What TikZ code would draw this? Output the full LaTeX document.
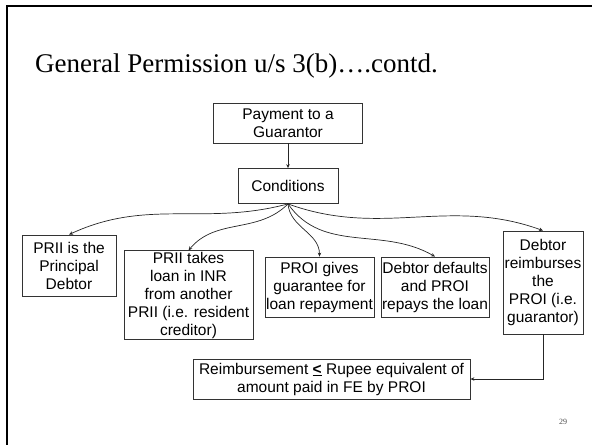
\documentclass[tikz,border=0pt]{standalone}
\usepackage{fontspec}
\setmainfont{Liberation Serif}
\newfontfamily\boxfont{Liberation Sans}
\usetikzlibrary{arrows.meta}

\tikzset{
    cond/.style={draw=black!80, line width=0.8pt, align=center, inner sep=1pt,
        font=\boxfont\fontsize{15.5}{18}\selectfont},
    link/.style={draw=black!85, line width=0.7pt, -{Stealth[length=4pt,width=3.5pt]}}
}

\begin{document}
\begin{tikzpicture}[x=1pt,y=1pt]
            \useasboundingbox (0,0) rectangle (592,-445);

            % slide frame
            \draw[line width=2.5pt] (592,-6) -- (7,-6) -- (7,-445);

            % title
            \node[anchor=base west, inner sep=0pt, font=\fontsize{27}{30}\selectfont] (title) at (35,-72)
                {General Permission u/s 3(b)….contd.};

            % boxes
            \node[cond, minimum width=149, minimum height=40] (pay) at (288,-123) {Payment to a\\Guarantor};
            \node[cond, minimum width=100, minimum height=35] (conds) at (288,-186) {Conditions};

            \node[cond, minimum width=94, minimum height=61] (principal) at (69,-265.5) {PRII is the\\Principal\\Debtor};
            \node[cond, minimum width=129, minimum height=88] (takes) at (188.5,-295) {PRII takes\\loan in INR\\from another\\PRII (i.e. resident\\creditor)};
            \node[cond, minimum width=105, minimum height=60] (gives) at (319.5,-287) {PROI gives\\guarantee for\\loan repayment};
            \node[cond, minimum width=100, minimum height=60] (defaults) at (435,-287) {Debtor defaults\\and PROI\\repays the loan};
            \node[cond, minimum width=80, minimum height=103] (reimburses) at (543,-282.5) {Debtor\\reimburses\\the\\PROI (i.e.\\guarantor)};

            \node[cond, minimum width=277, minimum height=40] (limit) at (331.5,-379)
                {Reimbursement \underline{\textbf{<}} Rupee equivalent of\\amount paid in FE by PROI};

            % arrows
            \draw[link] (pay) -- (conds);
            \draw[link] (conds.south) to[out=195, in=25] (principal.north);
            \draw[link] (conds.south) to[out=225, in=50] (takes.north);
            \draw[link] (conds.south) to[out=-85, in=90] (gives.north);
            \draw[link] (conds.south) to[out=-55, in=150] (defaults.north);
            \draw[link] (conds.south) to[out=-20, in=160] (reimburses.north);
            \draw[link] (reimburses.south) |- (limit.east);

            % page number
            \node[font=\fontsize{8}{9}\selectfont, text=black!70] (page) at (563,-422) {29};
\end{tikzpicture}
\end{document}
